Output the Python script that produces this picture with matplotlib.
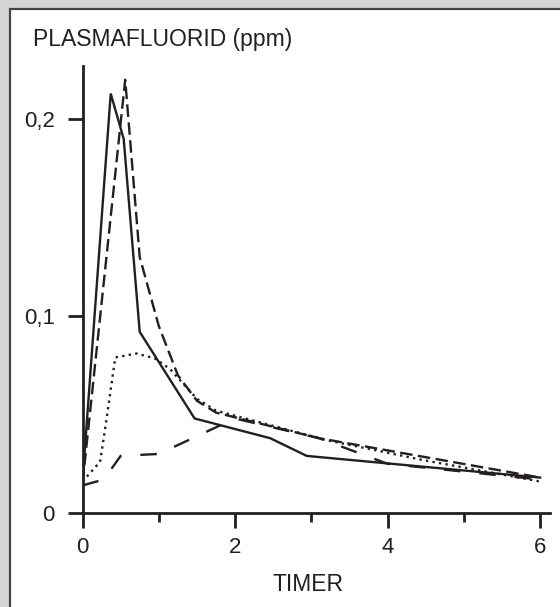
import matplotlib.pyplot as plt
from matplotlib.patches import Rectangle
from matplotlib.ticker import FixedLocator

# plasma fluoride (ppm) against time (hours), four curves
solid_t = [0, 0.37, 0.54, 0.75, 1.47, 2.46, 2.94, 6.0]
solid_v = [0.016, 0.213, 0.190, 0.092, 0.048, 0.038, 0.029, 0.018]

dash_t = [0, 0.56, 0.75, 1.0, 1.25, 1.5, 1.75, 3.1, 6.0]
dash_v = [0.015, 0.220, 0.130, 0.095, 0.070, 0.057, 0.051, 0.038, 0.018]

dot_t = [0, 0.23, 0.29, 0.43, 0.71, 0.95, 1.15, 1.5, 1.75, 3.2, 4.45, 6.0]
dot_v = [0.016, 0.026, 0.041, 0.079, 0.081, 0.0785, 0.073, 0.058, 0.052, 0.037, 0.027, 0.016]

long_t = [0, 0.28, 0.5, 1.0, 2.0, 3.1, 4.0, 6.0]
long_v = [0.014, 0.017, 0.029, 0.030, 0.048, 0.038, 0.025, 0.017]

x_major = [0, 2, 4, 6]
x_minor = [1, 3, 5]
y_ticks = [0, 0.1, 0.2]
y_labels = ["0", "0,1", "0,2"]

ink = "#231f20"
plt.rcParams['font.family'] = ['Liberation Sans', 'DejaVu Sans']

W, H = 560, 607
fig = plt.figure(figsize=(W / 100, H / 100), dpi=100, facecolor="#d4d6d3")
panel = Rectangle((10 / W, -0.1), 1.2, 1.1 - 9 / H, transform=fig.transFigure,
                  facecolor="white", edgecolor="#444444", lw=1.6, zorder=-5)
fig.add_artist(panel)

ax = fig.add_axes([82.5 / W, (H - 513) / H, (550 - 82.5) / W, (513 - 66) / H])
ax.set_facecolor("none")
ax.set_zorder(2)

lw = 1.7
ax.plot(solid_t, solid_v, color=ink, lw=lw, solid_joinstyle="miter")
ax.plot(dash_t, dash_v, color=ink, lw=lw, linestyle=(0, (5.3, 2.3)))
ax.plot(dot_t, dot_v, color=ink, lw=lw, linestyle=(0, (1.0, 1.8)))
ax.plot(long_t, long_v, color=ink, lw=lw, linestyle=(0, (7, 8)))

ax.set_xlim(0, 6.13)
ax.set_ylim(0, 0.227)

for s in ["top", "right"]:
    ax.spines[s].set_visible(False)
for s in ["left", "bottom"]:
    ax.spines[s].set_linewidth(2)
    ax.spines[s].set_color(ink)

ax.xaxis.set_major_locator(FixedLocator(x_major))
ax.xaxis.set_minor_locator(FixedLocator(x_minor))
ax.set_xticklabels([str(v) for v in x_major])
ax.set_yticks(y_ticks)
ax.set_yticklabels(y_labels)

ax.tick_params(axis="both", which="major", direction="out", length=11, width=2,
               color=ink, labelcolor=ink, labelsize=16)
ax.tick_params(axis="x", which="major", pad=6)
ax.tick_params(axis="y", which="major", pad=9)
ax.tick_params(axis="x", which="minor", direction="out", length=6.5, width=2, color=ink)

fig.text(33 / W, 1 - 46 / H, "PLASMAFLUORID (ppm)", fontsize=16.5, color=ink,
         ha="left", va="baseline")
fig.text(308 / W, 1 - 591 / H, "TIMER", fontsize=16.5, color=ink,
         ha="center", va="baseline")

fig.savefig("out.png", dpi=100, facecolor=fig.get_facecolor())
